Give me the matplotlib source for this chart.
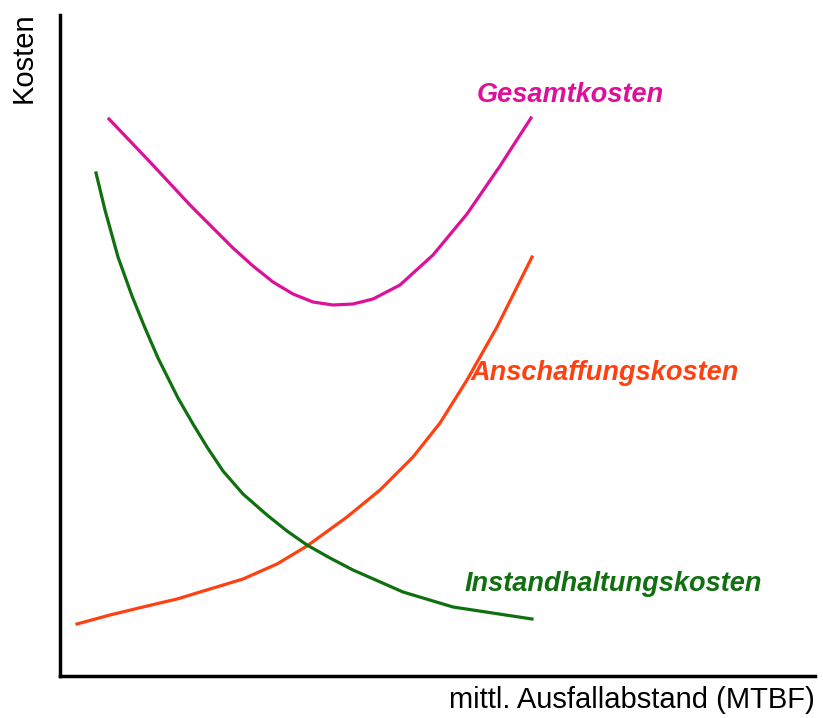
import numpy as np
import matplotlib.pyplot as plt

# Werte (x = MTBF nach rechts, y = Kosten nach oben, beliebige Einheiten)
gesamt_x = [49, 90, 130, 173, 193, 213, 233, 253, 273, 293, 313, 340, 373, 407, 440, 471]
gesamt_y = [557, 514, 471, 428, 410, 394, 382, 374, 371, 372, 377, 391, 421, 462, 510, 558]

anschaffung_x = [17, 50, 83, 117, 150, 183, 217, 247, 287, 320, 353, 380, 407, 437, 472]
anschaffung_y = [52, 61, 69, 77, 87, 97, 112, 130, 159, 186, 219, 253, 296, 349, 419]

instand_x = [36, 45, 58, 72, 85, 98, 118, 133, 147, 163, 183, 207, 227, 247, 270,
             293, 343, 393, 472]
instand_y = [503, 466, 419, 380, 348, 318, 278, 252, 229, 205, 182, 161, 145, 131, 118,
             106, 84, 69, 57]

fig = plt.figure(figsize=(8.23, 7.18), dpi=100)
ax = fig.add_axes([60 / 823, 42 / 718, 755 / 823, 661 / 718])

ax.plot(gesamt_x, gesamt_y, color='#dd1199', lw=2.3, solid_joinstyle='round')
ax.plot(anschaffung_x, anschaffung_y, color='#ff4010', lw=2.3, solid_joinstyle='round')
ax.plot(instand_x, instand_y, color='#107010', lw=2.3, solid_joinstyle='round')

ax.set_xlim(0, 755)
ax.set_ylim(0, 661)

font = dict(fontsize=19.5, fontweight='bold', fontstyle='italic',
            family='Liberation Sans', ha='center', va='center')
ax.text(510, 581, 'Gesamtkosten', color='#dd1199', **font)
ax.text(545, 303, 'Anschaffungskosten', color='#ff4010', **font)
ax.text(553, 92, 'Instandhaltungskosten', color='#107010', **font)

for s in ['top', 'right']:
    ax.spines[s].set_visible(False)
for s in ['left', 'bottom']:
    ax.spines[s].set_linewidth(2.5)
ax.set_xticks([])
ax.set_yticks([])

fig.text(815 / 823, 1 - 700 / 718, 'mittl. Ausfallabstand (MTBF)',
         fontsize=21, family='Liberation Sans', ha='right', va='center')
fig.text(24 / 823, 1 - 58 / 718, 'Kosten', rotation=90, fontsize=21,
         family='Liberation Sans', ha='center', va='center')

fig.savefig('out.png', dpi=100)
